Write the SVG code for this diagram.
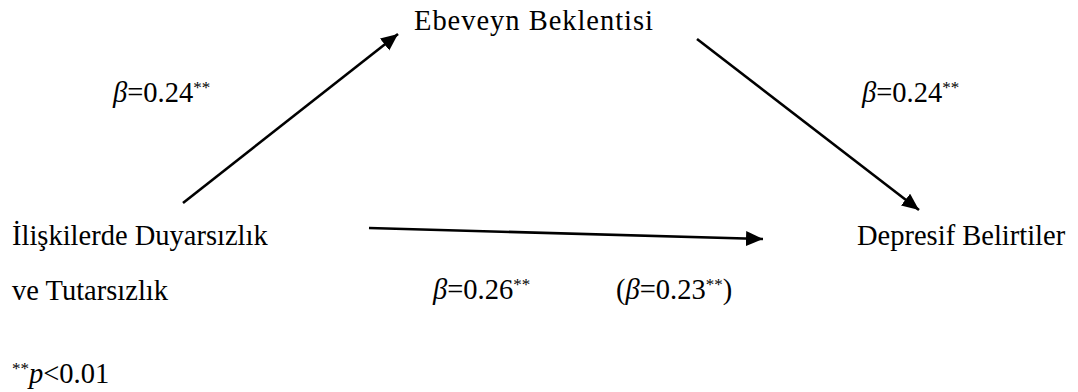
<svg xmlns="http://www.w3.org/2000/svg" width="1078" height="392" viewBox="0 0 1078 392">
<style>
.t{font-family:'Liberation Serif','DejaVu Serif',serif;font-size:28.5px;fill:#000}
.it{font-style:italic}
.sup{font-size:17px}
.conn{stroke:#000;stroke-width:2.6;fill:none}
</style>
<defs>
<marker id="ah" markerUnits="userSpaceOnUse" markerWidth="18" markerHeight="16" refX="17" refY="7.5" orient="auto">
<path d="M0,0 L17,7.5 L0,15 z" fill="#000"/>
</marker>
</defs>
<rect width="1078" height="392" fill="#fff"/>
<g id="connectors">
<line class="conn" x1="183" y1="203" x2="398" y2="34" marker-end="url(#ah)"/>
<line class="conn" x1="697" y1="39" x2="919" y2="210" marker-end="url(#ah)"/>
<line class="conn" x1="369" y1="228" x2="763" y2="239" marker-end="url(#ah)"/>
</g>
<g class="t" font-family="Liberation Serif, serif">
<g id="node-ebeveyn"><text x="414" y="30" textLength="239" lengthAdjust="spacing">Ebeveyn Beklentisi</text></g>
<g id="node-iliskiler">
<text x="12" y="245">İlişkilerde Duyarsızlık</text>
<text x="12" y="300">ve Tutarsızlık</text>
</g>
<g id="node-depresif"><text x="857" y="245">Depresif Belirtiler</text></g>
<g id="labels">
<text x="113" y="102"><tspan class="it">β</tspan>=0.24<tspan class="sup" dy="-9">**</tspan></text>
<text x="862" y="102"><tspan class="it">β</tspan>=0.24<tspan class="sup" dy="-9">**</tspan></text>
<text x="433" y="299"><tspan class="it">β</tspan>=0.26<tspan class="sup" dy="-9">**</tspan></text>
<text x="616" y="299">(<tspan class="it">β</tspan>=0.23<tspan class="sup" dy="-9">**</tspan><tspan dy="9">)</tspan></text>
<text x="12" y="383"><tspan class="sup" dy="-9">**</tspan><tspan class="it" dy="9">p</tspan>&lt;0.01</text>
</g>
</g>
</svg>
